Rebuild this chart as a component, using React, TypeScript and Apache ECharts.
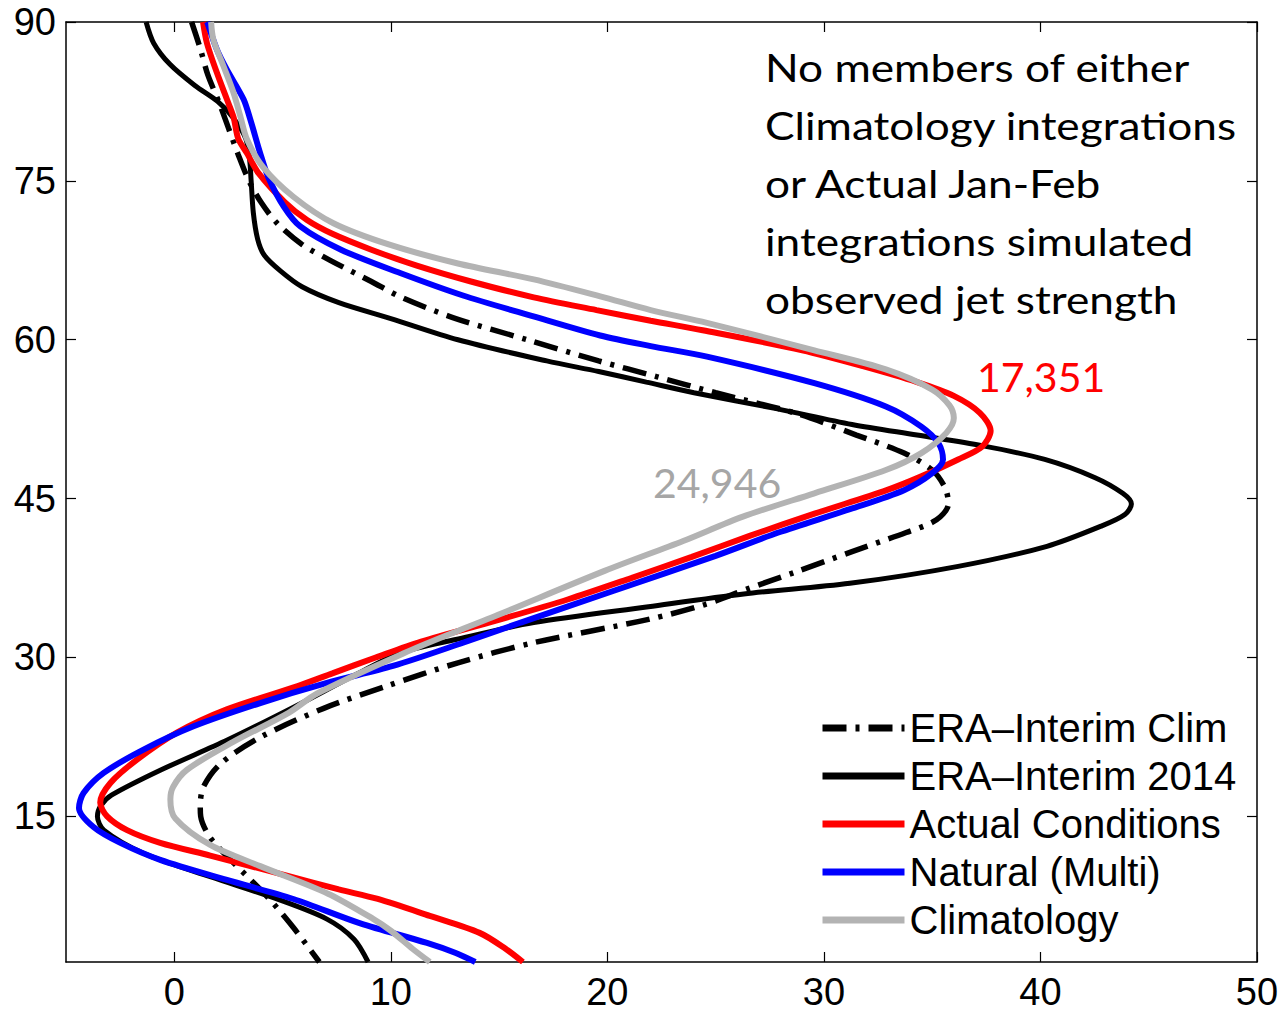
import React, { useEffect, useRef } from "react";
import * as echarts from "echarts";

// Axis ticks
const xTicks = [0, 10, 20, 30, 40, 50];
const yTicks = [15, 30, 45, 60, 75, 90];

// Series names
const seriesNames = [
  "ERA\u2013Interim Clim",
  "ERA\u2013Interim 2014",
  "Actual Conditions",
  "Natural (Multi)",
  "Climatology",
];

// ERA-Interim Clim (dash-dot black)
const climLat = [90, 87.5, 85, 82.5, 80, 77.5, 75, 73, 71, 69, 67.5, 65.5, 64, 62, 60, 58, 56.5, 55, 53, 51, 49.3, 47.7, 46, 44.5, 43, 41.8, 40, 38, 36.5, 35, 33.6, 31.4, 29.5, 27.3, 25.2, 22.5, 20, 17.8, 16, 15, 13, 10.6, 7.4, 4.5, 1.25];
const climU = [0.8, 1.2, 1.55, 2.05, 2.5, 2.95, 3.45, 4.0, 4.75, 5.9, 7.2, 9.1, 10.5, 13.0, 16.3, 19.6, 22.3, 25.0, 28.8, 31.5, 33.7, 35.0, 35.6, 35.75, 35.2, 33.8, 31.3, 28.6, 26.5, 24.5, 21.9, 16.6, 13.1, 9.8, 6.9, 4.0, 2.15, 1.35, 1.2, 1.22, 1.66, 2.75, 4.3, 5.5, 6.7];

// ERA-Interim 2014 (solid black)
const era14Lat = [90, 88, 86, 84, 82.5, 81, 79, 77, 75, 72, 69.5, 68, 66.5, 65, 63.5, 62, 60, 58, 57, 56, 55, 53.5, 52, 51, 50, 48.7, 47, 45.5, 44.5, 43.5, 42.4, 40.5, 38.6, 37, 36, 34.8, 33.3, 31.7, 30.4, 28.3, 25.4, 22.2, 19.4, 17, 16, 15, 13.7, 11.5, 9.3, 7.2, 5.3, 3.4, 1.25];
const era14U = [-1.3, -0.95, -0.2, 0.95, 2.0, 2.7, 3.3, 3.48, 3.55, 3.65, 3.85, 4.15, 4.9, 5.9, 7.6, 10.0, 13.1, 17.2, 19.6, 21.8, 24.0, 27.8, 31.3, 34.3, 37.3, 40.2, 42.5, 43.8, 44.2, 43.9, 42.8, 40.3, 36.2, 31.2, 26.3, 21.9, 16.6, 13.0, 10.4, 8.3, 5.6, 2.45, -0.6, -2.9, -3.4, -3.55, -3.25, -1.4, 1.66, 4.74, 7.05, 8.3, 8.95];

// Actual Conditions (red)
const actualLat = [90, 88, 85.2, 82.7, 81, 79, 77.6, 75.7, 73, 71.3, 70, 68.5, 67, 65.5, 64, 62.8, 61.8, 60.9, 59, 57.5, 56, 54.7, 53.1, 51.4, 49.9, 48.7, 47.1, 45.8, 43.6, 41.5, 39.5, 37.5, 35.5, 33.5, 31.5, 30, 28.5, 27.3, 25.1, 22.9, 20.35, 18.15, 16.3, 15, 13.7, 12.5, 11.3, 9.4, 8.1, 7.2, 5.6, 4, 2.5, 1.25];
const actualU = [1.33, 1.51, 1.97, 2.43, 2.74, 2.95, 3.36, 3.9, 5.1, 6.13, 7.3, 9.1, 11.2, 13.7, 16.6, 19.5, 22.0, 24.4, 29.0, 31.8, 34.3, 36.0, 37.2, 37.7, 37.3, 36.2, 34.5, 32.9, 29.6, 26.6, 23.9, 21.1, 18.2, 14.9, 11.4, 9.3, 7.3, 5.7, 2.43, 0.12, -1.72, -2.95, -3.42, -3.1, -2.18, -0.65, 1.66, 5.2, 7.6, 9.4, 11.8, 14.1, 15.3, 16.1];

// Natural (Multi) (blue)
const naturalLat = [90, 87.4, 85.5, 82.7, 80.8, 77.6, 75.3, 72.6, 70.7, 68.5, 66.3, 64.2, 62.2, 60.4, 59.4, 58.4, 55.9, 53.7, 51.8, 50.2, 48.7, 47.4, 45.8, 44, 41.8, 39.6, 36.3, 33.3, 31.3, 29.2, 27.6, 25.7, 23.5, 21.3, 19.1, 17.2, 15.8, 14, 12.5, 10.9, 9, 7.2, 4.9, 3.05, 2.1, 1.25];
const naturalU = [1.52, 1.97, 2.43, 3.2, 3.51, 3.97, 4.35, 5.05, 5.82, 7.7, 10.43, 13.3, 16.59, 19.67, 22.0, 24.6, 29.56, 32.86, 34.5, 35.3, 35.5, 35.0, 33.7, 31.2, 27.9, 25.0, 20.3, 16.0, 13.2, 10.1, 7.05, 3.97, 0.89, -1.42, -3.26, -4.19, -4.4, -3.73, -2.49, -0.65, 2.43, 5.5, 8.59, 11.67, 13.0, 13.9];

// Climatology (grey)
const climatologyLat = [90, 88.3, 85.8, 83.3, 81.1, 78.9, 76.3, 73.5, 71, 69, 67.2, 65.7, 64.1, 62.8, 61.6, 59, 57.2, 55.3, 53.8, 52.6, 51.2, 49.3, 47.7, 45.5, 43.3, 41, 38.2, 33.9, 32.6, 30.4, 26.6, 24.8, 22, 19.4, 17.8, 16.6, 14.8, 12.3, 10.3, 7.7, 5.3, 4.2, 2.5, 1.25];
const climatologyU = [1.7, 1.81, 2.28, 2.74, 3.05, 3.36, 4.1, 5.5, 7.35, 9.9, 13.1, 16.6, 19.67, 22.0, 24.6, 29.56, 32.86, 35.0, 35.8, 36.0, 35.65, 34.5, 32.86, 29.56, 26.26, 23.5, 19.9, 14.8, 13.2, 10.6, 6.6, 5.3, 2.7, 0.59, -0.05, -0.18, 0.05, 1.66, 3.97, 7.1, 9.2, 10.0, 11.0, 11.8];

// Annotation texts
const noteText = [
  "No members of either",
  "Climatology integrations",
  "or Actual Jan-Feb",
  "integrations simulated",
  "observed jet strength",
];
const actualCount = "17,351";
const climatologyCount = "24,946";

const pairs = (u: number[], lat: number[]) => u.map((v, i) => [v, lat[i]]);

const DASHDOT = [24, 9, 4, 9];
const AXIS_FONT = "Liberation Sans, Arial, Helvetica, sans-serif";
const NOTE_FONT = "Lato, 'Open Sans', sans-serif";

export default function App() {
  const ref = useRef<HTMLDivElement>(null);
  useEffect(() => {
    const chart = echarts.init(ref.current!, null, { renderer: "svg" });
    const lineCommon = {
      type: "line",
      showSymbol: false,
      symbol: "none",
      smooth: 0.3,
      xAxisIndex: 0,
      yAxisIndex: 0,
      silent: true,
    };
    const axisLineStyle = { show: true, onZero: false, lineStyle: { color: "#000", width: 1.5 } };
    const tickStyle = { color: "#000", width: 1.2 };
    const labelCommon = {
      show: true,
      color: "#000",
      fontSize: 38,
      fontFamily: AXIS_FONT,
      showMinLabel: true,
      showMaxLabel: true,
    };
    const hiddenLegendSymbol = { opacity: 0, borderWidth: 0 };
    chart.setOption({
      animation: false,
      backgroundColor: "#ffffff",
      grid: {
        left: 66,
        top: 22,
        right: 27,
        bottom: 50,
        containLabel: false,
        outerBoundsMode: "none",
        show: false,
      },
      xAxis: [
        {
          type: "value",
          min: -5,
          max: 50,
          position: "bottom",
          axisLine: axisLineStyle,
          axisTick: { show: true, inside: true, length: 10, customValues: xTicks, lineStyle: tickStyle },
          axisLabel: { ...labelCommon, customValues: xTicks, margin: 15, lineHeight: 30 },
          splitLine: { show: false },
        },
        {
          type: "value",
          min: -5,
          max: 50,
          position: "top",
          axisLine: axisLineStyle,
          axisTick: { show: true, inside: true, length: 10, customValues: xTicks, lineStyle: tickStyle },
          axisLabel: { show: false },
          splitLine: { show: false },
        },
      ],
      yAxis: [
        {
          type: "value",
          min: 1.25,
          max: 90,
          position: "left",
          axisLine: axisLineStyle,
          axisTick: { show: true, inside: true, length: 10, customValues: yTicks, lineStyle: tickStyle },
          axisLabel: { ...labelCommon, customValues: yTicks, margin: 10 },
          splitLine: { show: false },
        },
        {
          type: "value",
          min: 1.25,
          max: 90,
          position: "right",
          axisLine: axisLineStyle,
          axisTick: { show: true, inside: true, length: 10, customValues: yTicks, lineStyle: tickStyle },
          axisLabel: { show: false },
          splitLine: { show: false },
        },
      ],
      legend: {
        orient: "vertical",
        left: 819,
        top: 708,
        padding: 0,
        itemWidth: 82,
        itemHeight: 40,
        itemGap: 8,
        selectedMode: false,
        textStyle: { color: "#000", fontSize: 40, fontFamily: AXIS_FONT, lineHeight: 40 },
        data: [
          { name: seriesNames[0], itemStyle: hiddenLegendSymbol, lineStyle: { width: 7, type: DASHDOT, color: "#000" } },
          { name: seriesNames[1], itemStyle: hiddenLegendSymbol, lineStyle: { width: 7, type: "solid", color: "#000" } },
          { name: seriesNames[2], itemStyle: hiddenLegendSymbol, lineStyle: { width: 7, type: "solid", color: "#ff0000" } },
          { name: seriesNames[3], itemStyle: hiddenLegendSymbol, lineStyle: { width: 7, type: "solid", color: "#0000ff" } },
          { name: seriesNames[4], itemStyle: hiddenLegendSymbol, lineStyle: { width: 7, type: "solid", color: "#b3b3b3" } },
        ],
      },
      series: [
        {
          ...lineCommon,
          name: seriesNames[0],
          data: pairs(climU, climLat),
          itemStyle: { color: "#000" },
          lineStyle: { color: "#000", width: 5.5, type: DASHDOT, cap: "butt" },
        },
        {
          ...lineCommon,
          name: seriesNames[1],
          data: pairs(era14U, era14Lat),
          itemStyle: { color: "#000" },
          lineStyle: { color: "#000", width: 5 },
        },
        {
          ...lineCommon,
          name: seriesNames[2],
          data: pairs(actualU, actualLat),
          itemStyle: { color: "#ff0000" },
          lineStyle: { color: "#ff0000", width: 6 },
        },
        {
          ...lineCommon,
          name: seriesNames[3],
          data: pairs(naturalU, naturalLat),
          itemStyle: { color: "#0000ff" },
          lineStyle: { color: "#0000ff", width: 6 },
        },
        {
          ...lineCommon,
          name: seriesNames[4],
          data: pairs(climatologyU, climatologyLat),
          itemStyle: { color: "#b3b3b3" },
          lineStyle: { color: "#b3b3b3", width: 6 },
        },
      ],
      graphic: [
        {
          type: "text",
          x: 765,
          y: 38,
          scaleX: 1.163,
          silent: true,
          style: {
            text: noteText.join("\n"),
            fill: "#000",
            fontSize: 38,
            fontFamily: NOTE_FONT,
            lineHeight: 58,
          },
        },
        {
          type: "text",
          x: 977,
          y: 356,
          silent: true,
          style: { text: actualCount, fill: "#ff0000", fontSize: 41, fontFamily: NOTE_FONT },
        },
        {
          type: "text",
          x: 653,
          y: 462,
          silent: true,
          style: { text: climatologyCount, fill: "#a6a6a6", fontSize: 41, fontFamily: NOTE_FONT },
        },
      ],
    });
    return () => chart.dispose();
  }, []);
  return (
    <div
      ref={ref}
      style={{ position: "fixed", left: 0, top: 0, width: 1284, height: 1012, background: "#fff" }}
    />
  );
}
